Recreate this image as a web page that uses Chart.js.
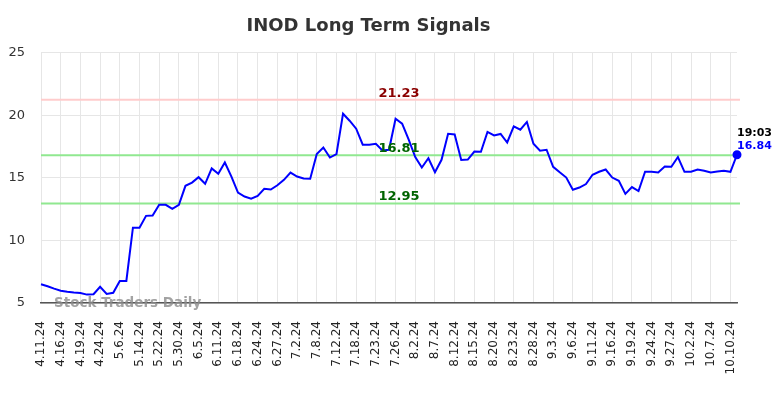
<!DOCTYPE html>
<html>
<head>
<meta charset="utf-8">
<script src="https://cdn.jsdelivr.net/npm/chart.js@4"></script>
<style>
  html,body{margin:0;padding:0;background:#fff;}
  #wrap{width:784px;height:398px;}
</style>
</head>
<body>
<div id="wrap"><canvas id="chart" width="784" height="398"></canvas></div>
<script>
// -------- data --------
const tickLabels = [
  "4.11.24","4.16.24","4.19.24","4.24.24","5.6.24","5.14.24","5.22.24","5.30.24",
  "6.5.24","6.11.24","6.18.24","6.24.24","6.27.24","7.2.24","7.8.24","7.12.24",
  "7.18.24","7.23.24","7.26.24","8.2.24","8.7.24","8.12.24","8.15.24","8.20.24",
  "8.23.24","8.28.24","9.3.24","9.6.24","9.11.24","9.16.24","9.19.24","9.24.24",
  "9.27.24","10.2.24","10.7.24","10.10.24"
];
const tickEvery = 3;

const prices = [
  6.50,6.34,6.15,5.98,5.90,5.84,5.80,5.67,5.70,6.30,
  5.72,5.82,6.76,6.76,11.02,11.02,11.96,11.99,12.84,12.84,
  12.52,12.84,14.36,14.62,15.05,14.52,15.75,15.32,16.22,15.10,
  13.82,13.50,13.34,13.56,14.12,14.06,14.40,14.84,15.42,15.10,
  14.94,14.92,16.90,17.42,16.62,16.90,20.12,19.56,18.92,17.64,
  17.64,17.72,17.18,17.24,19.72,19.32,18.04,16.66,15.82,16.56,
  15.44,16.44,18.52,18.46,16.42,16.46,17.10,17.08,18.66,18.38,
  18.50,17.82,19.10,18.84,19.46,17.72,17.16,17.24,15.88,15.44,
  15.02,14.04,14.22,14.50,15.24,15.48,15.66,15.02,14.76,13.72,
  14.26,13.94,15.48,15.48,15.42,15.90,15.88,16.66,15.48,15.48,
  15.66,15.56,15.42,15.50,15.56,15.48,16.84
];

const resistance = 21.23;
const middle = 16.81;
const support = 12.95;
const lastTime = "19:03";
const yTicks = [5,10,15,20,25];

const labels = prices.map((v,i) => i % tickEvery === 0 ? (tickLabels[i / tickEvery] || "") : "");

// -------- levels / annotations --------
const levelsPlugin = {
  id: 'levels',
  beforeDatasetsDraw(chart){
    const {ctx, chartArea, scales} = chart;
    const lines = [
      {v: resistance, line: '#ffcccc'},
      {v: middle, line: '#90e890'},
      {v: support, line: '#90e890'}
    ];
    ctx.save();
    lines.forEach(l => {
      const y = scales.y.getPixelForValue(l.v);
      ctx.strokeStyle = l.line;
      ctx.lineWidth = 2;
      ctx.beginPath();
      ctx.moveTo(chartArea.left, y);
      ctx.lineTo(chartArea.right + 3, y);
      ctx.stroke();
    });
    ctx.restore();
  },
  afterDatasetsDraw(chart){
    const {ctx, chartArea, scales} = chart;
    const cx = (chartArea.left + chartArea.right) / 2 + 10;
    ctx.save();
    ctx.font = 'bold 13px "DejaVu Sans"';
    ctx.textAlign = 'center';
    ctx.textBaseline = 'alphabetic';
    [[resistance,'#8b0000'],[middle,'#006400'],[support,'#006400']].forEach(([v,c]) => {
      ctx.fillStyle = c;
      ctx.fillText(v.toFixed(2), cx, scales.y.getPixelForValue(v) - 3);
    });

    // watermark
    ctx.font = 'bold 13.5px "DejaVu Sans"';
    ctx.textAlign = 'left';
    ctx.textBaseline = 'middle';
    ctx.fillStyle = 'rgba(140,140,140,0.8)';
    ctx.fillText('Stock Traders Daily', chartArea.left + 13, chartArea.bottom);

    // last value label
    const meta = chart.getDatasetMeta(0);
    const pt = meta.data[meta.data.length - 1];
    ctx.font = 'bold 11px "DejaVu Sans"';
    ctx.fillStyle = '#000';
    ctx.fillText(lastTime, pt.x, pt.y - 22);
    ctx.fillStyle = '#0000ff';
    ctx.fillText(prices[prices.length - 1].toFixed(2), pt.x, pt.y - 9);
    ctx.restore();
  }
};

new Chart(document.getElementById('chart'), {
  type: 'line',
  data: {
    labels: labels,
    datasets: [{
      data: prices,
      borderColor: '#0000ff',
      backgroundColor: '#0000ff',
      borderWidth: 2,
      tension: 0,
      pointRadius: ctx => ctx.dataIndex === prices.length - 1 ? 3.5 : 0,
      pointHoverRadius: 0
    }]
  },
  options: {
    responsive: false,
    animation: false,
    layout: {padding: {left: 0, right: 47, top: 0, bottom: 0}},
    plugins: {
      legend: {display: false},
      tooltip: {enabled: false},
      title: {
        display: true,
        text: 'INOD Long Term Signals',
        color: '#333',
        font: {family: 'DejaVu Sans', size: 18, weight: 'bold'},
        padding: {top: 16, bottom: 15}
      }
    },
    scales: {
      x: {
        grid: {
          color: ctx => (ctx.index % tickEvery === 0 ? '#e6e6e6' : 'rgba(0,0,0,0)'),
          drawTicks: false
        },
        border: {color: '#555', width: 1.5},
        ticks: {
          autoSkip: false,
          maxRotation: 90,
          minRotation: 90,
          padding: 18,
          color: '#222',
          font: {family: 'DejaVu Sans', size: 12}
        },
        afterFit: s => { s.height = 95; }
      },
      y: {
        min: yTicks[0],
        max: yTicks[yTicks.length - 1],
        afterBuildTicks: s => { s.ticks = yTicks.map(v => ({value: v})); },
        grid: {color: '#e6e6e6', drawTicks: false},
        border: {display: false},
        ticks: {
          padding: 16,
          color: '#333',
          font: {family: 'DejaVu Sans', size: 13}
        },
        afterFit: s => { s.width = 41; }
      }
    }
  },
  plugins: [levelsPlugin]
});
</script>
</body>
</html>
